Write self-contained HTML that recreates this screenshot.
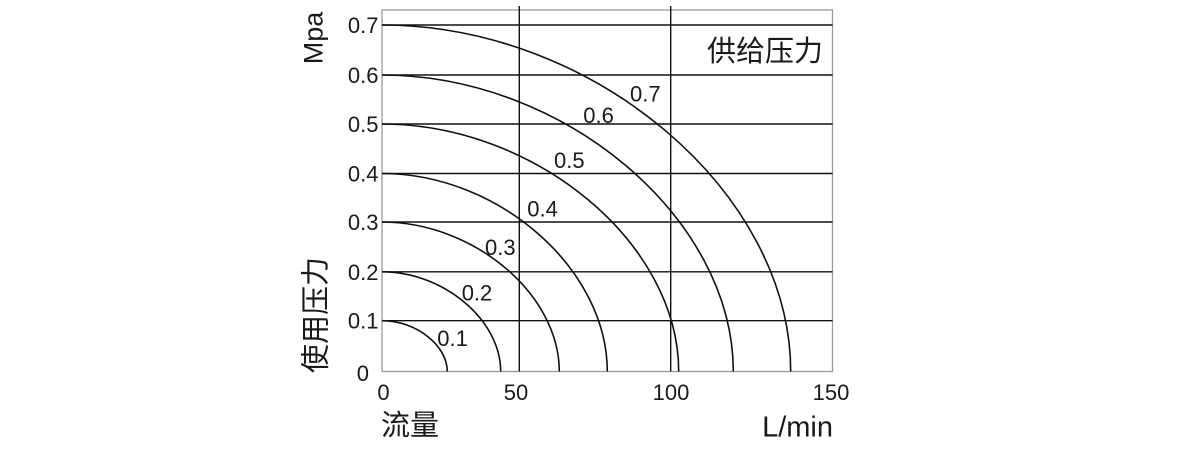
<!DOCTYPE html>
<html><head><meta charset="utf-8"><style>
html,body{margin:0;padding:0;background:#fff;}
svg{display:block;}
text{font-family:"Liberation Sans","Noto Sans CJK SC",sans-serif;fill:#1a1a1a;}
.cjk{font-family:"Liberation Sans","Noto Sans CJK SC",sans-serif;}
</style></head><body>
<svg width="1193" height="450" viewBox="0 0 1193 450" xmlns="http://www.w3.org/2000/svg">
<rect width="1193" height="450" fill="#fff"/>
<!-- frame -->
<rect x="382" y="10" width="450.5" height="361.5" fill="none" stroke="#9a9a9a" stroke-width="1.3"/>
<!-- horizontal grid -->
<g stroke="#111" stroke-width="1.4">
<line x1="382" y1="25" x2="832.5" y2="25"/>
<line x1="382" y1="75" x2="832.5" y2="75"/>
<line x1="382" y1="124" x2="832.5" y2="124"/>
<line x1="382" y1="173.5" x2="832.5" y2="173.5"/>
<line x1="382" y1="222" x2="832.5" y2="222"/>
<line x1="382" y1="271.8" x2="832.5" y2="271.8"/>
<line x1="382" y1="320.7" x2="832.5" y2="320.7"/>
<line x1="519.3" y1="6" x2="519.3" y2="371.5"/>
<line x1="670.7" y1="6" x2="670.7" y2="371.5"/>
</g>
<!-- curves -->
<g fill="none" stroke="#111" stroke-width="1.6">
<path d="M382 320.7 C415.8 320.7 447.3 345.1 447.3 371.5"/>
<path d="M382 271.8 C443.5 271.8 500.7 319.8 500.7 371.5"/>
<path d="M382 222 C473.8 222 559.3 294 559.3 371.5"/>
<path d="M382 173.5 C498.7 173.5 607.3 268.8 607.3 371.5"/>
<path d="M382 124 C535.7 124 678.7 243.3 678.7 371.5"/>
<path d="M382 75 C564 75 733.3 217.9 733.3 371.5"/>
<path d="M382 25 C593.7 25 790.7 192 790.7 371.5"/>
</g>
<!-- y tick labels -->
<g font-size="22" text-anchor="end">
<text x="378.5" y="33">0.7</text>
<text x="378.5" y="83">0.6</text>
<text x="378.5" y="132">0.5</text>
<text x="378.5" y="181.5">0.4</text>
<text x="378.5" y="230">0.3</text>
<text x="378.5" y="279.8">0.2</text>
<text x="378.5" y="328.7">0.1</text>
<text x="369" y="381">0</text>
</g>
<!-- x tick labels -->
<g font-size="22" text-anchor="middle">
<text x="383.5" y="400">0</text>
<text x="516" y="400">50</text>
<text x="671" y="400">100</text>
<text x="831" y="400">150</text>
</g>
<!-- curve labels -->
<g font-size="22">
<text x="630" y="101.7">0.7</text>
<text x="583.3" y="123">0.6</text>
<text x="554" y="168">0.5</text>
<text x="527.3" y="216.5">0.4</text>
<text x="485" y="255">0.3</text>
<text x="461.7" y="300.5">0.2</text>
<text x="437.3" y="346">0.1</text>
</g>
<!-- titles -->
<text class="cjk" x="823" y="52" font-size="29" text-anchor="end" dominant-baseline="central">供给压力</text>
<text class="cjk" x="381" y="426" font-size="29" dominant-baseline="central">流量</text>
<text x="833" y="436.7" font-size="29" text-anchor="end">L/min</text>
<text x="322.5" y="38" font-size="27" text-anchor="middle" transform="rotate(-90 322.5 38)">Mpa</text>
<text class="cjk" x="316.7" y="315" font-size="29" text-anchor="middle" dominant-baseline="central" transform="rotate(-90 316.7 315)">使用压力</text>
</svg>
</body></html>
